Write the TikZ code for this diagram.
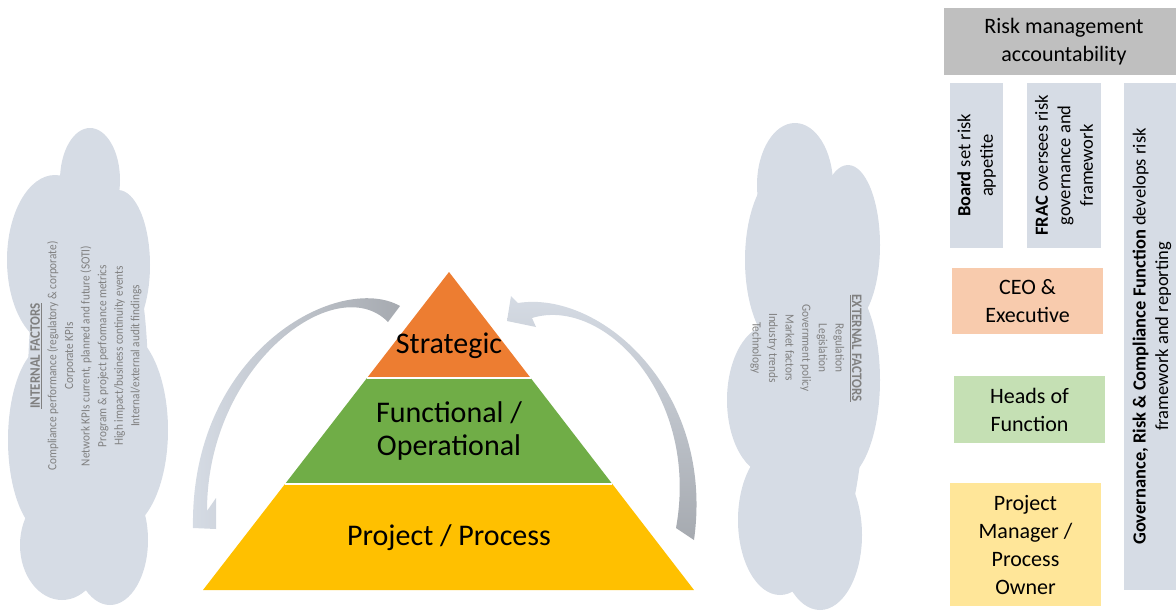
\documentclass[tikz,border=0pt]{standalone}
\usepackage{fontspec}
\setmainfont{Carlito}
\newfontfamily\cloudfont[FakeStretch=0.9]{Carlito}
\usetikzlibrary{calc, positioning}

\definecolor{cloudgray}{HTML}{D6DCE5}
\definecolor{arrowgray}{HTML}{A6AAB0}
\definecolor{textgray}{HTML}{808080}
\definecolor{headgray}{HTML}{BFBFBF}
\definecolor{stratorange}{HTML}{ED7D31}
\definecolor{funcgreen}{HTML}{70AD47}
\definecolor{projyellow}{HTML}{FFC000}
\definecolor{ceopeach}{HTML}{F8CBAD}
\definecolor{headsgreen}{HTML}{C5E0B4}
\definecolor{pmyellow}{HTML}{FFE699}

\newcommand{\factorhead}[1]{{\fontsize{14.5}{16.6}\selectfont\underline{\textbf{#1}}}}

\begin{document}
\begin{tikzpicture}[
	  x=1pt, y=-1pt,
	  puff/.style={fill=cloudgray},
	  factor_style/.style={
	  	align=center,
	  	text=textgray,
	  	font=\cloudfont\fontsize{12.5}{16.6}\selectfont
	  },
	  level_style/.style={
	  	align=center,
	  	text=black,
	  	font=\fontsize{30}{33}\selectfont
	  },
	  role_style/.style={
	  	rectangle,
	  	align=center,
	  	text=black,
	  	inner sep=0pt,
	  	font=\fontsize{22}{28}\selectfont
	  },
	  duty_style/.style={
	  	rectangle,
	  	fill=cloudgray,
	  	align=center,
	  	rotate=90,
	  	inner sep=0pt,
	  	font=\fontsize{18.5}{22.5}\selectfont
	  },
	  band_line/.style={white, line width=1.5pt}]
	\useasboundingbox (0,0) rectangle (1176,614);

	% Clouds with the risk factors, one ellipse per puff
	\foreach \cx/\cy/\rx/\ry in {90/180/30/52, 55/260/48/85, 118/265/32/75, 48/440/40/95,
			120/430/48/100, 62/545/42/55, 110/540/38/65, 88/380/60/200}
		\fill[puff] (\cx,\cy) ellipse [x radius=\rx pt, y radius=\ry pt];
	\foreach \cx/\cy/\rx/\ry in {795/185/38/62, 848/245/32/80, 840/380/40/100, 785/260/40/90,
			770/400/43/75, 780/520/42/75, 820/535/42/75, 810/380/55/200}
		\fill[puff] (\cx,\cy) ellipse [x radius=\rx pt, y radius=\ry pt];
	\coordinate (cloud_int) at (86,356);
	\coordinate (cloud_ext) at (806,348);
	\node[factor_style, rotate=90] (int_factors) at (cloud_int)
		{\factorhead{INTERNAL FACTORS}\\
		 Compliance performance (regulatory \& corporate)\\
		 Corporate KPIs\\
		 Network KPIs current, planned and future (SOTI)\\
		 Program \& project performance metrics\\
		 High impact/business continuity events\\
		 Internal/external audit findings};
	\node[factor_style, rotate=-90] (ext_factors) at (cloud_ext)
		{\factorhead{EXTERNAL FACTORS}\\
		 Regulation\\
		 Legislation\\
		 Government policy\\
		 Market factors\\
		 Industry trends\\
		 Technology};

	% Pyramid
	\coordinate (apex) at (449,272);
	\coordinate (base_l) at (203,590);
	\coordinate (base_r) at (694,590);
	\coordinate (s_l) at ($(apex)!1/3!(base_l)$);
	\coordinate (s_r) at ($(apex)!1/3!(base_r)$);
	\coordinate (f_l) at ($(apex)!2/3!(base_l)$);
	\coordinate (f_r) at ($(apex)!2/3!(base_r)$);
	\fill[stratorange] (apex) -- (s_r) -- (s_l) -- cycle;
	\fill[funcgreen] (s_l) -- (s_r) -- (f_r) -- (f_l) -- cycle;
	\fill[projyellow] (f_l) -- (f_r) -- (base_r) -- (base_l) -- cycle;
	\draw[band_line] (s_l) -- (s_r);
	\draw[band_line] (f_l) -- (f_r);
	\node[level_style] (strategic) at (449,346) {Strategic};
	\node[level_style] (functional) at (449,431) {Functional /\\Operational};
	\node[level_style] (project) at (449,538) {Project / Process};

	% Curved arrows round the pyramid
	\coordinate (la_tail_o) at (400,306);
	\coordinate (la_tail_i) at (388,322);
	\coordinate (la_barb_o) at (193,528);
	\coordinate (la_tip) at (216,529);
	\coordinate (la_barb_i) at (216,498);
	\coordinate (la_neck) at (207,511);
	\shade[left color=cloudgray, right color=arrowgray]
		(la_tail_o) .. controls (340,272) and (190,350) .. (la_barb_o)
		-- (la_tip) -- (la_barb_i) -- (la_neck)
		.. controls (207,365) and (336,269) .. (la_tail_i) -- cycle;
	\coordinate (ra_tip) at (507,321);
	\coordinate (ra_barb_o) at (511,296);
	\coordinate (ra_neck_o) at (518,303);
	\coordinate (ra_tail_o) at (694,540);
	\coordinate (ra_tail_i) at (676,528);
	\coordinate (ra_neck_i) at (532,318);
	\coordinate (ra_barb_i) at (536,327);
	\shade[top color=cloudgray, bottom color=arrowgray]
		(ra_tip) -- (ra_barb_o) -- (ra_neck_o)
		.. controls (600,290) and (715,390) .. (ra_tail_o)
		-- (ra_tail_i) .. controls (700,395) and (603,296) .. (ra_neck_i)
		-- (ra_barb_i) -- cycle;

	% Accountability panel
	\node[role_style, fill=headgray, minimum width=240pt, minimum height=67pt] (accountability) at (1064,41.5)
		{\raisebox{-2pt}{\begin{tabular}{@{}c@{}}Risk management\\accountability\end{tabular}}};
	\node[duty_style, minimum width=165pt, minimum height=53pt] (board) at (976.5,165.5)
		{\textbf{Board} set risk\\appetite};
	\node[duty_style, minimum width=165pt, minimum height=74pt] (frac) at (1064,165.5)
		{\textbf{FRAC} oversees risk\\governance and\\framework};
	\node[duty_style, minimum width=507pt, minimum height=56pt] (grc) at (1152,336.5)
		{\textbf{Governance, Risk \& Compliance Function} develops risk\\framework and reporting};
	\node[role_style, fill=ceopeach, minimum width=151pt, minimum height=66pt] (ceo) at (1027.5,301)
		{CEO \&\\Executive};
	\node[role_style, fill=headsgreen, minimum width=151pt, minimum height=67pt] (heads) at (1029.5,409.5)
		{Heads of\\Function};
	\node[role_style, fill=pmyellow, minimum width=151pt, minimum height=123pt] (pm) at (1025.5,544.5)
		{Project\\Manager /\\Process\\Owner};
\end{tikzpicture}
\end{document}
